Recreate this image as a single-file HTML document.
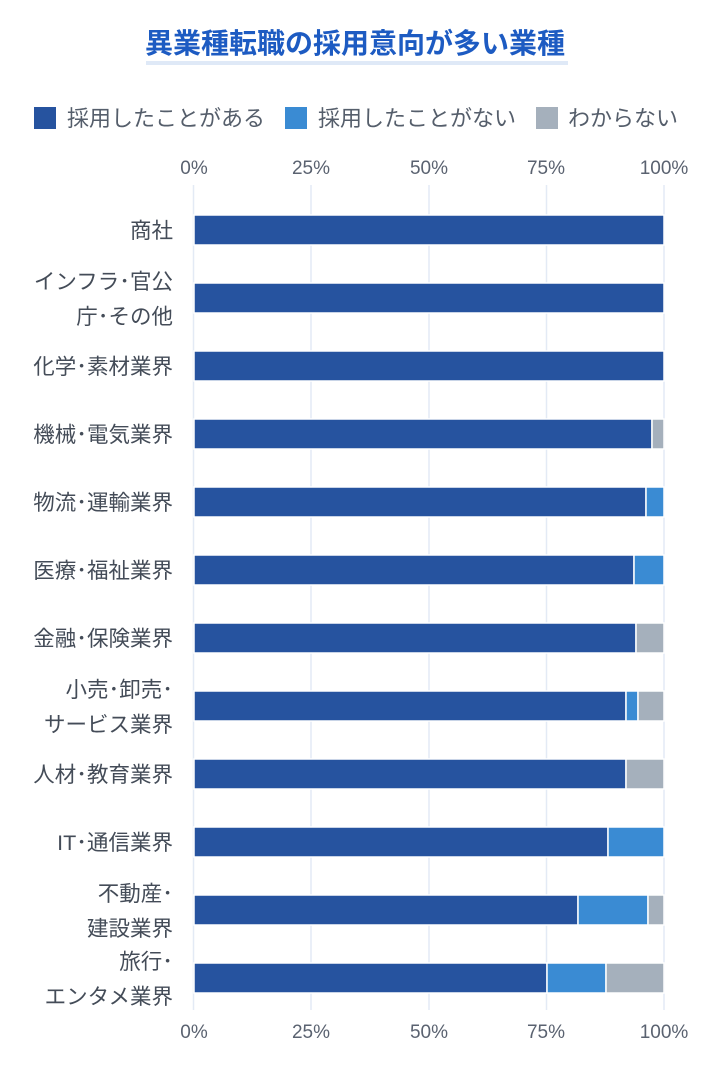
<!DOCTYPE html>
<html><head><meta charset="utf-8"><style>
body{margin:0;background:#fff;width:710px;height:1060px;overflow:hidden}
svg text{font-family:"Liberation Sans","Noto Sans CJK JP",sans-serif}
</style></head><body>
<svg width="710" height="1060" xmlns="http://www.w3.org/2000/svg">
<text x="355" y="53" text-anchor="middle" font-size="28" font-weight="bold" fill="#1d5bc2" textLength="420" lengthAdjust="spacingAndGlyphs">異業種転職の採用意向が多い業種</text>
<rect x="146" y="61" width="422" height="4" fill="#dfe9f7"/>
<g font-size="22" fill="#555e6b">
<rect x="34" y="107" width="22" height="22" fill="#26539f"/><text x="67" y="126">採用したことがある</text>
<rect x="285" y="107" width="22" height="22" fill="#3a8bd3"/><text x="318" y="126">採用したことがない</text>
<rect x="536" y="107" width="22" height="22" fill="#a5b0bc"/><text x="568" y="126">わからない</text>
</g>
<g stroke="#e3eaf5" stroke-width="1.5">
<line x1="193.5" y1="185" x2="193.5" y2="1010"/><line x1="311" y1="185" x2="311" y2="1010"/><line x1="429" y1="185" x2="429" y2="1010"/><line x1="546.5" y1="185" x2="546.5" y2="1010"/><line x1="664" y1="185" x2="664" y2="1010"/>
</g>
<g font-size="19" fill="#5a6270" text-anchor="middle">
<text x="194" y="174">0%</text><text x="311" y="174">25%</text><text x="429" y="174">50%</text><text x="546" y="174">75%</text><text x="664" y="174">100%</text>
<text x="194" y="1038">0%</text><text x="311" y="1038">25%</text><text x="429" y="1038">50%</text><text x="546" y="1038">75%</text><text x="664" y="1038">100%</text>
</g>
<g stroke="#fff" stroke-width="1.5">
<rect x="194" y="215" width="470" height="30" fill="#26539f"/>
<rect x="194" y="283" width="470" height="30" fill="#26539f"/>
<rect x="194" y="351" width="470" height="30" fill="#26539f"/>
<rect x="194" y="419" width="458" height="30" fill="#26539f"/><rect x="652" y="419" width="12" height="30" fill="#a5b0bc"/>
<rect x="194" y="487" width="452" height="30" fill="#26539f"/><rect x="646" y="487" width="18" height="30" fill="#3a8bd3"/>
<rect x="194" y="555" width="440" height="30" fill="#26539f"/><rect x="634" y="555" width="30" height="30" fill="#3a8bd3"/>
<rect x="194" y="623" width="442" height="30" fill="#26539f"/><rect x="636" y="623" width="28" height="30" fill="#a5b0bc"/>
<rect x="194" y="691" width="432" height="30" fill="#26539f"/><rect x="626" y="691" width="12" height="30" fill="#3a8bd3"/><rect x="638" y="691" width="26" height="30" fill="#a5b0bc"/>
<rect x="194" y="759" width="432" height="30" fill="#26539f"/><rect x="626" y="759" width="38" height="30" fill="#a5b0bc"/>
<rect x="194" y="827" width="414" height="30" fill="#26539f"/><rect x="608" y="827" width="56" height="30" fill="#3a8bd3"/>
<rect x="194" y="895" width="384" height="30" fill="#26539f"/><rect x="578" y="895" width="70" height="30" fill="#3a8bd3"/><rect x="648" y="895" width="16" height="30" fill="#a5b0bc"/>
<rect x="194" y="963" width="353" height="30" fill="#26539f"/><rect x="547" y="963" width="59" height="30" fill="#3a8bd3"/><rect x="606" y="963" width="58" height="30" fill="#a5b0bc"/>
</g>
<g font-size="21.5" fill="#444c58" text-anchor="end">
<text x="173" y="238">商社</text>
<text x="173" y="289">インフラ･官公</text><text x="173" y="324">庁･その他</text>
<text x="173" y="374">化学･素材業界</text>
<text x="173" y="442">機械･電気業界</text>
<text x="173" y="510">物流･運輸業界</text>
<text x="173" y="578">医療･福祉業界</text>
<text x="173" y="646">金融･保険業界</text>
<text x="173" y="697">小売･卸売･</text><text x="173" y="732">サービス業界</text>
<text x="173" y="782">人材･教育業界</text>
<text x="173" y="850">IT･通信業界</text>
<text x="173" y="901">不動産･</text><text x="173" y="936">建設業界</text>
<text x="173" y="969">旅行･</text><text x="173" y="1004">エンタメ業界</text>
</g>
</svg>
</body></html>
